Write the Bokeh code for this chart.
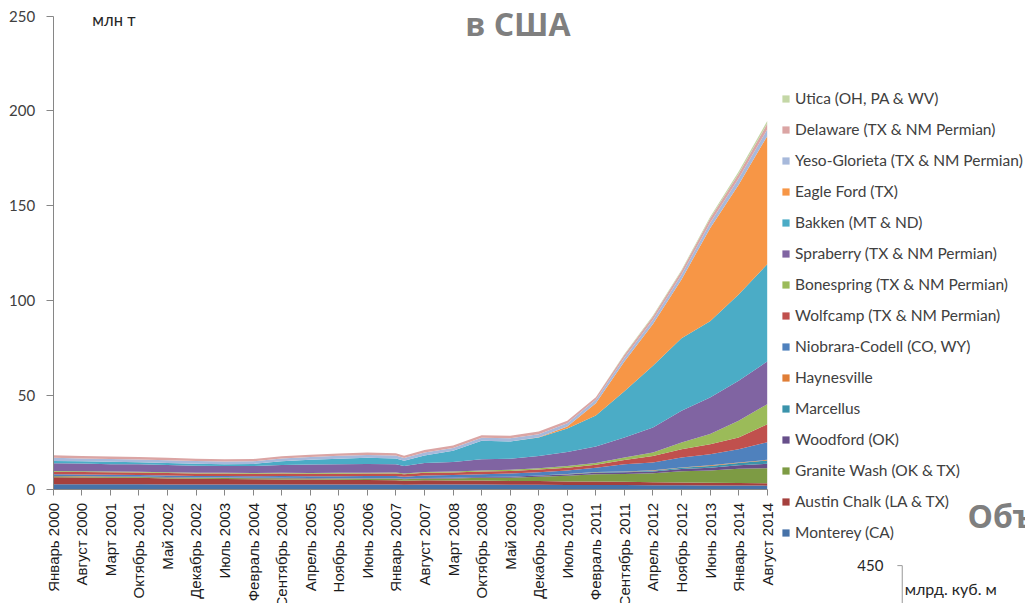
from math import pi
from bokeh.plotting import figure
from bokeh.models import (ColumnDataSource, Range1d, FixedTicker, Legend, LegendItem,
                          Label, Arrow)
from bokeh.embed import file_html
from bokeh.resources import INLINE

# ---- data (million tonnes), months counted from January 2000 ----
months = [0, 7, 14, 21, 28, 35, 42, 49, 56, 63, 70, 77, 84, 86, 91, 98, 105, 112,
          119, 126, 133, 140, 147, 154, 161, 168, 175]

tick_months = [0, 7, 14, 21, 28, 35, 42, 49, 56, 63, 70, 77, 84, 91, 98, 105, 112,
               119, 126, 133, 140, 147, 154, 161, 168, 175]
tick_labels = ["Январь 2000", "Август 2000", "Март 2001", "Октябрь 2001", "Май 2002",
               "Декабрь 2002", "Июль 2003", "Февраль 2004", "Сентябрь 2004", "Апрель 2005",
               "Ноябрь 2005", "Июнь 2006", "Январь 2007", "Август 2007", "Март 2008",
               "Октябрь 2008", "Май 2009", "Декабрь 2009", "Июль 2010", "Февраль 2011",
               "Сентябрь 2011", "Апрель 2012", "Ноябрь 2012", "Июнь 2013", "Январь 2014",
               "Август 2014"]
y_ticks = [0, 50, 100, 150, 200, 250]

monterey = [2.9, 2.9, 2.9, 2.9, 2.8, 2.8, 2.8, 2.8, 2.8, 2.8, 2.8, 2.8, 2.8, 2.7,
            2.8, 2.8, 2.8, 2.7, 2.7, 2.6, 2.6, 2.5, 2.4, 2.4, 2.3, 2.3, 2.2]
austin_chalk = [3.7, 3.6, 3.5, 3.4, 3.2, 3.0, 2.9, 2.8, 2.7, 2.6, 2.5, 2.4, 2.3, 2.1,
                2.2, 2.1, 2.1, 2.0, 1.9, 1.8, 1.8, 1.7, 1.6, 1.5, 1.4, 1.3, 1.2]
granite_wash = [0.5, 0.5, 0.5, 0.5, 0.5, 0.5, 0.5, 0.5, 0.6, 0.6, 0.6, 0.7, 0.8, 0.8,
                0.9, 1.1, 1.4, 1.7, 2.3, 3.0, 3.8, 4.1, 4.7, 5.9, 6.5, 7.5, 8.0]
woodford = [0.2, 0.2, 0.2, 0.2, 0.2, 0.2, 0.2, 0.2, 0.2, 0.2, 0.2, 0.2, 0.2, 0.2,
            0.3, 0.3, 0.4, 0.5, 0.6, 0.7, 0.8, 0.9, 1.0, 1.2, 1.5, 1.8, 2.3]
marcellus = [0, 0, 0, 0, 0, 0, 0, 0, 0, 0, 0, 0, 0, 0,
             0, 0, 0, 0, 0.05, 0.1, 0.2, 0.3, 0.4, 0.6, 0.9, 1.2, 1.8]
haynesville = [0.05, 0.05, 0.05, 0.05, 0.05, 0.05, 0.05, 0.05, 0.05, 0.05, 0.05, 0.05, 0.05, 0.05,
               0.05, 0.05, 0.05, 0.05, 0.05, 0.1, 0.2, 0.2, 0.2, 0.2, 0.3, 0.3, 0.3]
niobrara = [0.8, 0.8, 0.8, 0.8, 0.8, 0.8, 0.8, 0.8, 0.9, 0.9, 1.0, 1.1, 1.2, 1.1,
            1.3, 1.4, 1.5, 1.6, 1.7, 1.9, 2.2, 3.8, 4.1, 5.2, 5.9, 7.0, 9.3]
wolfcamp = [1.4, 1.4, 1.3, 1.3, 1.3, 1.3, 1.3, 1.3, 1.3, 1.3, 1.3, 1.3, 1.3, 1.2,
            1.4, 1.4, 1.4, 1.4, 1.4, 1.5, 1.6, 2.2, 3.5, 4.4, 5.3, 6.2, 9.5]
bonespring = [0.4, 0.4, 0.4, 0.4, 0.4, 0.4, 0.4, 0.4, 0.4, 0.4, 0.5, 0.5, 0.5, 0.5,
              0.5, 0.5, 0.6, 0.6, 0.7, 0.8, 0.9, 1.3, 1.8, 3.6, 5.3, 8.8, 10.6]
spraberry = [4.0, 4.0, 3.9, 3.9, 3.8, 3.7, 3.6, 3.7, 4.2, 4.5, 4.6, 4.6, 4.3, 3.9,
             4.7, 5.0, 5.9, 5.8, 6.4, 7.5, 8.8, 10.6, 13.2, 16.7, 19.3, 21.1, 22.5]
bakken = [1.3, 1.2, 1.2, 1.1, 1.1, 1.0, 1.0, 1.1, 1.9, 2.5, 2.9, 3.2, 3.1, 2.8,
          4.0, 5.9, 9.7, 9.2, 9.8, 12.4, 16.3, 24.4, 32.6, 38.3, 40.3, 45.5, 51.3]
eagle_ford = [0, 0, 0, 0, 0, 0, 0, 0, 0, 0, 0, 0, 0, 0,
              0, 0, 0, 0, 0.1, 1.0, 6.5, 15.7, 22.0, 31.0, 49.0, 58.0, 67.6]
yeso_glorieta = [1.6, 1.5, 1.5, 1.5, 1.5, 1.4, 1.4, 1.4, 1.5, 1.5, 1.5, 1.5, 1.5, 1.4,
                 1.5, 1.5, 1.6, 1.6, 1.6, 1.7, 1.8, 2.0, 2.2, 2.5, 2.8, 3.2, 3.5]
delaware = [1.4, 1.3, 1.3, 1.3, 1.3, 1.2, 1.2, 1.2, 1.2, 1.2, 1.2, 1.3, 1.3, 1.2,
            1.3, 1.3, 1.4, 1.4, 1.4, 1.4, 1.3, 1.6, 1.8, 2.0, 2.3, 2.6, 3.0]
utica = [0, 0, 0, 0, 0, 0, 0, 0, 0, 0, 0, 0, 0, 0,
         0, 0, 0, 0, 0, 0, 0, 0.4, 0.5, 0.5, 0.9, 1.2, 1.5]

# stack order, bottom first
keys = ["monterey", "austin_chalk", "granite_wash", "woodford", "marcellus", "haynesville",
        "niobrara", "wolfcamp", "bonespring", "spraberry", "bakken", "eagle_ford",
        "yeso_glorieta", "delaware", "utica"]
series = [monterey, austin_chalk, granite_wash, woodford, marcellus, haynesville,
          niobrara, wolfcamp, bonespring, spraberry, bakken, eagle_ford,
          yeso_glorieta, delaware, utica]
labels = ["Monterey (CA)", "Austin Chalk (LA & TX)", "Granite Wash (OK & TX)", "Woodford (OK)",
          "Marcellus", "Haynesville", "Niobrara-Codell (CO, WY)", "Wolfcamp (TX & NM Permian)",
          "Bonespring (TX & NM Permian)", "Spraberry (TX & NM Permian)", "Bakken (MT & ND)",
          "Eagle Ford (TX)", "Yeso-Glorieta (TX & NM Permian)", "Delaware (TX & NM Permian)",
          "Utica (OH, PA & WV)"]
colors = ["#4672A8", "#A5403D", "#7D9B44", "#674F8A", "#3A93AB", "#E07E37",
          "#4F81BD", "#C0504D", "#9BBB59", "#8064A2", "#4BACC6", "#F79646",
          "#A7B9DB", "#DBA5A4", "#C4D7A6"]

data = {"month": months}
for k, s in zip(keys, series):
    data[k] = s
source = ColumnDataSource(data)

# frame covers the whole figure; axes are pinned at x=0 / y=0 and bounded
p = figure(width=1025, height=603, output_backend="svg", toolbar_location=None,
           x_range=Range1d(-12.917, 238.31), y_range=Range1d(-59.99, 258.18),
           min_border=0)
p.outline_line_color = None
p.background_fill_color = "white"
p.border_fill_color = "white"
p.xgrid.visible = False
p.ygrid.visible = False

renderers = p.varea_stack(stackers=keys, x="month", color=colors, source=source)

axis_grey = "#868686"
ya = p.yaxis[0]
ya.fixed_location = 0
ya.bounds = (0, 250)
ya.ticker = FixedTicker(ticks=y_ticks)
ya.axis_line_color = axis_grey
ya.major_tick_line_color = axis_grey
ya.major_tick_out = 7
ya.major_tick_in = 0
ya.minor_tick_line_color = None
ya.major_label_standoff = 11
ya.major_label_text_font = "Lato"
ya.major_label_text_font_size = "15px"
ya.major_label_text_color = "#404040"

xa = p.xaxis[0]
xa.fixed_location = 0
xa.bounds = (0, 175)
xa.ticker = FixedTicker(ticks=tick_months)
xa.major_label_overrides = {m: lab for m, lab in zip(tick_months, tick_labels)}
xa.major_label_orientation = pi / 2
xa.axis_line_color = axis_grey
xa.major_tick_line_color = axis_grey
xa.major_tick_out = 6
xa.major_tick_in = 0
xa.minor_tick_line_color = None
xa.major_label_standoff = 7
xa.major_label_text_font = "Liberation Sans"
xa.major_label_text_font_size = "15px"
xa.major_label_text_color = "#1a1a1a"

# legend (top entry = top of stack), inside the wide frame on the right
items = [LegendItem(label=lab, renderers=[r]) for lab, r in zip(labels, renderers)][::-1]
legend = Legend(items=items, location=(781, 61), glyph_width=9, glyph_height=9,
                label_height=20, spacing=11, padding=0, margin=0, label_standoff=5,
                border_line_color=None, background_fill_alpha=0,
                label_text_font="Lato", label_text_font_size="15.5px",
                label_text_color="#404040")
p.add_layout(legend, "center")

# texts
p.add_layout(Label(x=9.6, y=242.4, text="млн т", text_font="Lato",
                   text_font_size="16.5px", text_color="#262626"))
p.add_layout(Label(x=101.0, y=234.5, text="в США", text_font="Open Sans",
                   text_font_style="bold", text_font_size="32px", text_color="#7F7F7F"))
p.add_layout(Label(x=224.1, y=-25.0, text="Объ", text_font="Open Sans",
                   text_font_style="bold", text_font_size="32px", text_color="#7F7F7F"))
p.add_layout(Label(x=197.1, y=-42.6, text="450", text_font="Lato",
                   text_font_size="15px", text_color="#262626"))
p.add_layout(Label(x=208.7, y=-57.2, text="млрд. куб. м", text_font="Lato",
                   text_font_size="16px", text_color="#262626"))
p.add_layout(Arrow(end=None, x_start=208.1, y_start=-40.0, x_end=208.1, y_end=-60.0,
                   line_color="#999999", line_width=1))
p.add_layout(Arrow(end=None, x_start=206.9, y_start=-40.0, x_end=208.1, y_end=-40.0,
                   line_color="#999999", line_width=1))

open("out.html", "w").write(file_html(p, INLINE))
